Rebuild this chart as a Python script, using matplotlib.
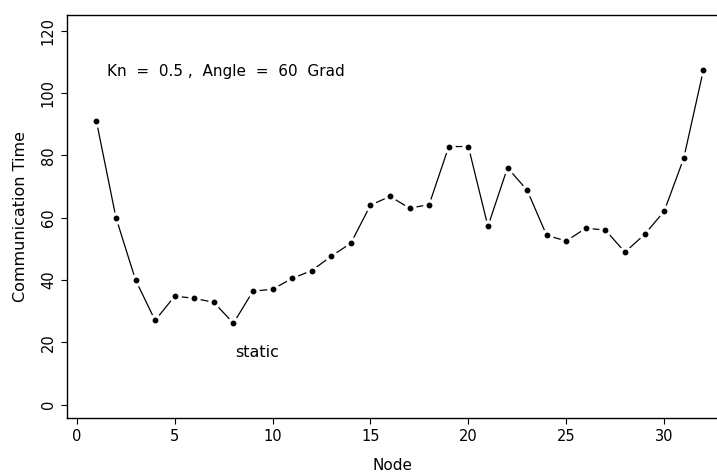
import matplotlib
matplotlib.use("Agg")
import matplotlib.pyplot as plt

nodes = list(range(1, 33))
comm_time = [91, 60, 40, 27, 34.8, 34.1, 32.8, 26.1, 36.4, 37, 40.5, 43, 47.6, 51.8,
             64, 66.8, 63, 64.2, 82.8, 82.8, 57.2, 76, 68.8, 54.3, 52.5, 56.6, 56,
             48.9, 54.6, 62, 79, 107.2]
xticks = [0, 5, 10, 15, 20, 25, 30]
yticks = [0, 20, 40, 60, 80, 100, 120]

plt.rcParams['font.family'] = ['DejaVu Sans']
fig = plt.figure(figsize=(7.17, 4.73), dpi=100)
ax = fig.add_axes([67/717, 55/473, 650/717, 403/473])

ax.plot(nodes, comm_time, color='black', lw=0.9, zorder=1)
ax.plot(nodes, comm_time, ls='none', marker='o', ms=8, mfc='white', mec='white', zorder=2)
ax.plot(nodes, comm_time, ls='none', marker='o', ms=3.2, mfc='black', mec='black', zorder=3)

ax.set_xlim(-0.5, 32.7)
ax.set_ylim(-4.3, 125)
ax.set_xticks(xticks)
ax.set_yticks(yticks)
ax.set_yticklabels([str(v) for v in yticks], rotation=90, va='center')
ax.tick_params(direction='out', length=4, width=0.8, labelsize=10.5, pad=4)
ax.spines['right'].set_visible(False)
for s in ['left', 'bottom', 'top']:
    ax.spines[s].set_linewidth(1.0)

ax.set_xlabel('Node', fontsize=11, labelpad=10)
ax.set_ylabel('Communication Time', fontsize=11.5, labelpad=9)

ax.text(1.55, 107, 'Kn  =  0.5 ,  Angle  =  60  Grad', fontsize=11, va='center', ha='left')
ax.text(8.1, 16.8, 'static', fontsize=11.5, va='center', ha='left')

fig.savefig('out.png', dpi=100)
